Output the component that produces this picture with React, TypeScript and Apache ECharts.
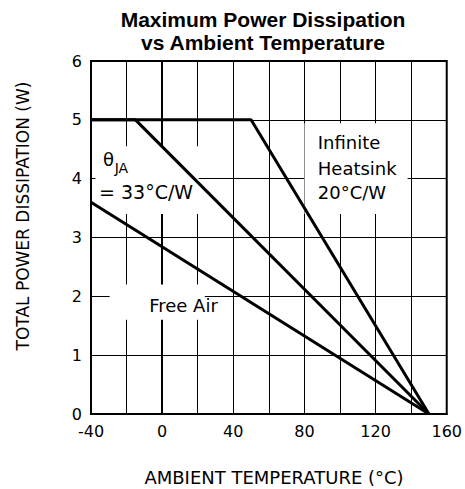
import React, { useEffect, useRef } from "react";
import * as echarts from "echarts";

const xTickLabels = ["-40", "0", "40", "80", "120", "160"];
const yTickLabels = ["0", "1", "2", "3", "4", "5", "6"];

const infiniteHeatsink: [number, number][] = [[-40, 5], [50, 5], [150, 0]];
const theta33: [number, number][] = [[-40, 5], [-15, 5], [150, 0]];
const freeAir: [number, number][] = [[-40, 3.6], [150, 0]];

const FONT = "DejaVu Sans";

export default function App() {
  const ref = useRef<HTMLDivElement>(null);
  useEffect(() => {
    document.body.style.margin = "0";
    const chart = echarts.init(ref.current!, null, { renderer: "svg" });
    const lineStyle = { color: "#000", width: 3 };
    chart.setOption({
      animation: false,
      grid: { left: 91, right: 18, top: 61, bottom: 75, show: true, borderColor: "#000", borderWidth: 2, backgroundColor: "transparent" },
      xAxis: {
        type: "value", min: -40, max: 160, interval: 20,
        axisLine: { show: true, lineStyle: { color: "#000", width: 2 } },
        axisTick: { show: false },
        splitLine: { show: true, lineStyle: { color: "#000", width: 1 } },
        axisLabel: {
          margin: 9, color: "#000", fontFamily: FONT, fontSize: 16,
          formatter: (v: number) => (xTickLabels.includes(String(v)) ? String(v) : ""),
        },
      },
      yAxis: {
        type: "value", min: 0, max: 6, interval: 1,
        axisLine: { show: true, lineStyle: { color: "#000", width: 2 } },
        axisTick: { show: false },
        splitLine: { show: true, lineStyle: { color: "#000", width: 1 } },
        axisLabel: {
          margin: 9, color: "#000", fontFamily: FONT, fontSize: 16,
          formatter: (v: number) => (yTickLabels.includes(String(v)) ? String(v) : ""),
        },
      },
      series: [
        { type: "line", data: infiniteHeatsink, symbol: "none", lineStyle, z: 3 },
        { type: "line", data: theta33, symbol: "none", lineStyle, z: 3 },
        { type: "line", data: freeAir, symbol: "none", lineStyle, z: 3 },
      ],
    });

    const p = (x: number, y: number) => chart.convertToPixel({ gridIndex: 0 }, [x, y]) as number[];
    const box = (x1: number, y1: number, x2: number, y2: number) => {
      const a = p(x1, y1);
      const b = p(x2, y2);
      return {
        type: "rect", z: 1, silent: true,
        shape: { x: Math.min(a[0], b[0]), y: Math.min(a[1], b[1]), width: Math.abs(b[0] - a[0]), height: Math.abs(b[1] - a[1]) },
        style: { fill: "#fff" },
      };
    };
    const txt = (x: number, y: number, text: string, size: number, align = "left", extra: any = {}) => {
      const a = p(x, y);
      return {
        type: "text", z: 2, silent: true, x: a[0], y: a[1],
        style: { text, font: `${size}px "${FONT}"`, fill: "#000", textAlign: align, textVerticalAlign: "middle", ...extra },
      };
    };

    const graphic: any[] = [
      box(-29.5, 1.6, 24, 2.2),
      box(-37.5, 3.4, 20.5, 4.55),
      box(80, 3.4, 138, 4.94),
      txt(12, 1.85, "Free Air", 18, "center"),
      txt(-33.3, 4.32, "θ", 18, "left"),
      txt(-26.7, 4.18, "JA", 14, "left"),
      txt(-35.5, 3.78, "= 33°C/W", 19, "left"),
      txt(87.5, 4.61, "Infinite", 18, "left"),
      txt(87.5, 4.18, "Heatsink", 18, "left"),
      txt(87.5, 3.76, "20°C/W", 18, "left"),
      {
        type: "text", x: 263, y: 8, silent: true,
        style: { text: "Maximum Power Dissipation\nvs Ambient Temperature", font: 'bold 21px "Liberation Sans"', fill: "#000", textAlign: "center", textVerticalAlign: "top", lineHeight: 23 },
      },
      {
        type: "text", x: 274, y: 477, silent: true,
        style: { text: "AMBIENT TEMPERATURE (°C)", font: `18px "${FONT}"`, fill: "#000", textAlign: "center", textVerticalAlign: "middle" },
      },
      {
        type: "text", x: 23, y: 216, rotation: Math.PI / 2, silent: true,
        style: { text: "TOTAL POWER DISSIPATION (W)", font: `17px "${FONT}"`, fill: "#000", textAlign: "center", textVerticalAlign: "middle" },
      },
    ];
    chart.setOption({ graphic });
    return () => chart.dispose();
  }, []);
  return <div ref={ref} style={{ width: 465, height: 489 }} />;
}
